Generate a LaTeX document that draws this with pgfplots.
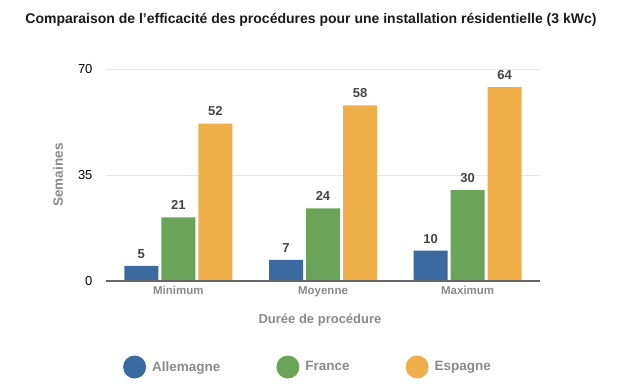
\documentclass[border=0pt]{standalone}
\usepackage{pgfplots}
\pgfplotsset{compat=1.18}
\usepackage{fontspec}
\setmainfont{Liberation Sans}
\definecolor{cblue}{HTML}{3A6AA0}
\definecolor{cgreen}{HTML}{6AA458}
\definecolor{corange}{HTML}{EFAF4A}
\definecolor{cgrid}{HTML}{E6E6E6}
\definecolor{caxis}{HTML}{666666}
\definecolor{clab}{HTML}{8A8A8A}
\definecolor{cval}{HTML}{444444}
\begin{document}
\begin{tikzpicture}
\useasboundingbox (-106bp,-104bp) rectangle (514bp,281bp);
\begin{axis}[
  scale only axis,
  width=434bp, height=212bp,
  ymin=0, ymax=70,
  xmin=-0.5, xmax=2.5,
  ytick={0,35,70},
  xtick=data,
  xticklabels={Minimum,Moyenne,Maximum},
  ybar=3bp, bar width=34bp,
  axis line style={draw=none},
  ymajorgrids, grid style={cgrid, line width=1bp},
  major tick length=0pt,
  /pgf/number format/assume math mode=true,
  yticklabel style={font=\fontsize{13bp}{15bp}\selectfont, text=black, xshift=-10bp},
  xticklabel style={font=\bfseries\fontsize{11.5bp}{13bp}\selectfont, text=clab, yshift=-1bp, text height=8.5bp, text depth=2.5bp},
  ylabel={Semaines},
  every axis y label/.style={at={(-48bp,106bp)}, rotate=90, anchor=center, font=\bfseries\fontsize{13.5bp}{15bp}\selectfont, text=clab},
  xlabel={Durée de procédure},
  every axis x label/.style={at={(214bp,-39bp)}, anchor=center, font=\bfseries\fontsize{13bp}{15bp}\selectfont, text=clab},
  nodes near coords,
  every node near coord/.append style={font=\bfseries\fontsize{13bp}{15bp}\selectfont, text=cval, yshift=4bp},
  legend columns=3,
  legend style={draw=none, fill=none, at={(202bp,-86bp)}, anchor=center,
    font=\bfseries\fontsize{13.5bp}{15bp}\selectfont, text=clab,
    /tikz/every even column/.append style={column sep=54bp},
    /tikz/every odd column/.append style={column sep=4bp}},
  legend image code/.code={\fill[#1] (0bp,0bp) circle (11.5bp);},
  clip=false,
]
\addplot[fill=cblue, draw=none] coordinates {(0,5) (1,7) (2,10)};
\addplot[fill=cgreen, draw=none] coordinates {(0,21) (1,24) (2,30)};
\addplot[fill=corange, draw=none] coordinates {(0,52) (1,58) (2,64)};
\legend{Allemagne,France,Espagne}
\draw[caxis, line width=1.5bp] (axis cs:-0.5,0) -- (axis cs:2.5,0);
\end{axis}
\node[font=\bfseries\fontsize{14bp}{16bp}\selectfont, text=black!90] at (205bp,261bp) {Comparaison de l’efficacité des procédures pour une installation résidentielle (3 kWc)};
\end{tikzpicture}
\end{document}
